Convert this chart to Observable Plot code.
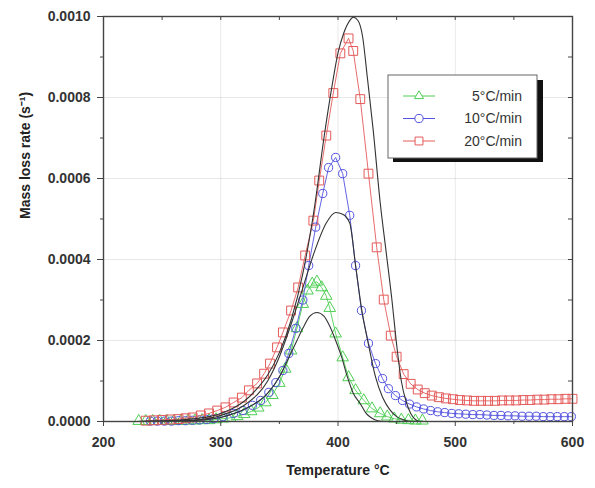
<!DOCTYPE html>
<html><head><meta charset="utf-8">
<script src="https://cdn.jsdelivr.net/npm/d3@7"></script>
<script src="https://cdn.jsdelivr.net/npm/@observablehq/plot@0.6"></script>
<style>body{margin:0;background:#fff}#chart{width:595px;height:488px}</style>
</head><body><div id="chart"></div>
<script>
// ---- data ----
const seriesNames = ["5°C/min", "10°C/min", "20°C/min"];
const seriesColors = ["#4fcf55", "#5252e0", "#e45a5a"];

const temp5 = [230,236,242,248,254,260,266,272,278,284,290,296,302,308,314,320,326,332,338,344,350,355,360,365,370,374,378,382,386,390,393,398,404,409,415,422,429,436,442,448,454,460,466,472];
const rate5 = [0.000001,0.000001,0.000001,0.000001,0.000001,0.000001,0.000001,0.000002,0.000002,0.000003,0.000003,0.000005,0.000007,0.000009,0.000013,0.000018,0.000025,0.000034,0.000047,0.000065,0.000095,0.000130,0.000175,0.000230,0.000290,0.000323,0.000340,0.000345,0.000331,0.000310,0.000280,0.000217,0.000158,0.000109,0.000077,0.000052,0.000032,0.000020,0.000012,0.000007,0.000004,0.000003,0.000002,0.000002];

const temp10 = [240,246,252,258,264,270,276,282,288,294,302,311,319,327,334,341,347,353,358,364,370,375,381,387,392,398,404,410,415,420,426,432,438,443,449,455,461,467,473,479,485,491,497,503,509,515,521,527,533,539,545,551,557,563,569,575,581,587,593,599];
const rate10 = [0.000001,0.000001,0.000001,0.000001,0.000002,0.000002,0.000003,0.000004,0.000005,0.000007,0.000012,0.000020,0.000027,0.000040,0.000052,0.000072,0.000096,0.000126,0.000168,0.000230,0.000300,0.000385,0.000480,0.000563,0.000627,0.000652,0.000612,0.000509,0.000385,0.000274,0.000193,0.000143,0.000106,0.000081,0.000064,0.000052,0.000043,0.000036,0.000031,0.000027,0.000024,0.000022,0.000020,0.000019,0.000018,0.000017,0.000017,0.000016,0.000015,0.000015,0.000014,0.000014,0.000013,0.000013,0.000013,0.000012,0.000012,0.000012,0.000012,0.000012];

const temp20 = [236,243,250,257,264,270,276,283,290,297,304,311,318,324,331,337,342,348,353,360,366,372,379,384,390,396,402,409,413,419,426,433,439,445,450,456,462,468,474,480,486,492,498,504,510,516,522,528,534,540,546,552,558,564,570,576,582,588,594,600];
const rate20 = [0.000002,0.000003,0.000004,0.000005,0.000006,0.000008,0.000010,0.000015,0.000020,0.000027,0.000035,0.000047,0.000059,0.000077,0.000094,0.000118,0.000143,0.000183,0.000220,0.000274,0.000331,0.000410,0.000496,0.000595,0.000706,0.000811,0.000909,0.000946,0.000915,0.000796,0.000612,0.000430,0.000301,0.000212,0.000160,0.000117,0.000093,0.000079,0.000070,0.000064,0.000060,0.000057,0.000055,0.000053,0.000052,0.000051,0.000051,0.000051,0.000051,0.000052,0.000052,0.000052,0.000053,0.000053,0.000054,0.000054,0.000055,0.000055,0.000056,0.000056];

// model curves (dark lines)
const modelTemp5 = [230,260,280,300,320,340,350,360,365,370,376,382,388,393,398,403,408,413,419,424,428,434,440,600];
const modelRate5 = [0,0.000001,0.000003,0.000010,0.000030,0.000070,0.000110,0.000170,0.000200,0.000230,0.000260,0.000269,0.000260,0.000235,0.000200,0.000160,0.000110,0.000070,0.000044,0.000020,0.000010,0.000002,0,0];
const modelTemp10 = [230,260,280,300,320,340,350,360,370,380,390,398,404,410,415,420,426,432,438,444,450,456,462,600];
const modelRate10 = [0,0.000001,0.000004,0.000015,0.000040,0.000100,0.000160,0.000240,0.000330,0.000420,0.000490,0.000516,0.000512,0.000490,0.000385,0.000280,0.000190,0.000110,0.000060,0.000030,0.000012,0.000004,0,0];
const modelTemp20 = [230,250,270,290,300,310,320,330,340,350,360,370,380,388,395,400,405,410,413,417,421,425,430,436,441,446,450,454,458,462,466,470,480,600];
const modelRate20 = [0,0.000002,0.000005,0.000012,0.000020,0.000032,0.000050,0.000078,0.000115,0.000170,0.000250,0.000365,0.000530,0.000700,0.000830,0.000910,0.000960,0.000990,0.000998,0.000990,0.000950,0.000850,0.000720,0.000540,0.000420,0.000300,0.000190,0.000100,0.000050,0.000020,0.000005,0,0,0];

const xTicks = [200, 300, 400, 500, 600];
const xMinor = [250, 350, 450, 550];
const yTicks = [0, 0.0002, 0.0004, 0.0006, 0.0008, 0.0010];
const yMinor = [0.0001, 0.0003, 0.0005, 0.0007, 0.0009];
const xGrid = [300, 400, 500];
const yGrid = [0.0002, 0.0004, 0.0006, 0.0008];
const xLabel = "Temperature °C";
const yLabel = "Mass loss rate (s⁻¹)";

// ---- build ----
const W = 595, H = 488, mL = 103, mR = 23, mT = 16, mB = 67;
const innerW = W - mL - mR, innerH = H - mT - mB;
const symbols = ["triangle", "circle", "square"];
const symbolR = [4.3, 4.1, 5];
const exp = [[temp5, rate5], [temp10, rate10], [temp20, rate20]].map(([t, r]) => t.map((d, i) => ({t: d, r: r[i]})));
const models = [[modelTemp5, modelRate5], [modelTemp10, modelRate10], [modelTemp20, modelRate20]].map(([t, r]) => t.map((d, i) => ({t: d, r: r[i]})));
const axisColor = "#444";

const marks = [
  Plot.gridX(xGrid, {stroke: "#000", strokeOpacity: 0.09}),
  Plot.gridY(yGrid, {stroke: "#000", strokeOpacity: 0.09}),
];
exp.forEach((data, k) => {
  marks.push(Plot.line(data, {x: "t", y: "r", stroke: seriesColors[k], strokeWidth: 0.9}));
  marks.push(Plot.dot(data, {x: "t", y: "r", symbol: () => symbols[k], r: symbolR[k], stroke: seriesColors[k], fill: "none", strokeWidth: 1}));
});
models.forEach((data) => {
  marks.push(Plot.line(data, {x: "t", y: "r", stroke: "#333", strokeWidth: 1.1, curve: "monotone-x"}));
});
marks.push(
  Plot.frame({stroke: axisColor, strokeWidth: 1.4}),
  Plot.axisX(xTicks, {tickSize: 5, tickPadding: 11, fontSize: 14, fontWeight: "bold", label: null, tickFormat: d => d, stroke: axisColor, fill: "#333"}),
  Plot.axisY(yTicks, {tickSize: 6, tickPadding: 7, fontSize: 14, fontWeight: "bold", label: null, tickFormat: d3.format(".4f"), stroke: axisColor, fill: "#333"}),
  Plot.tickX(xMinor, {x: d => d, insetTop: innerH, insetBottom: -3, stroke: axisColor}),
  Plot.tickY(yMinor, {y: d => d, insetRight: innerW, insetLeft: -3, stroke: axisColor}),
  Plot.tickX(xMinor.concat(xTicks.slice(1, -1)), {x: d => d, insetBottom: innerH - 4, stroke: axisColor}),
  Plot.tickY(yMinor.concat(yTicks.slice(1, -1)), {y: d => d, insetLeft: innerW - 4, stroke: axisColor}),
  Plot.text([xLabel], {frameAnchor: "bottom", dy: 53, fontSize: 14, fontWeight: "bold", fill: "#222"}),
  Plot.text([yLabel], {frameAnchor: "left", dx: -78, rotate: -90, fontSize: 14, fontWeight: "bold", fill: "#222"})
);

const plot = Plot.plot({
  width: W, height: H,
  marginLeft: mL, marginRight: mR, marginTop: mT, marginBottom: mB,
  x: {domain: [200, 600], label: null},
  y: {domain: [0, 0.001], label: null},
  style: {fontFamily: "'Liberation Sans', Arial, sans-serif", background: "white", color: "#333"},
  marks
});
document.getElementById("chart").appendChild(plot);

// ---- legend ----
const svg = d3.select(plot);
const lg = svg.append("g");
lg.append("rect").attr("x", 393).attr("y", 80).attr("width", 150).attr("height", 82).attr("fill", "#111");
lg.append("rect").attr("x", 388).attr("y", 75).attr("width", 149).attr("height", 83).attr("fill", "white").attr("stroke", "#666").attr("stroke-width", 1);
const symTypes = [d3.symbolTriangle2, d3.symbolCircle, d3.symbolSquare2];
const rowY = [96, 118.5, 141];
seriesNames.forEach((name, k) => {
  const g = lg.append("g").attr("transform", `translate(0,${rowY[k]})`);
  g.append("line").attr("x1", 403).attr("x2", 435).attr("y1", 0).attr("y2", 0).attr("stroke", seriesColors[k]).attr("stroke-width", 1);
  g.append("path").attr("transform", "translate(419,0)").attr("d", d3.symbol(symTypes[k], Math.PI * symbolR[k] * symbolR[k])()).attr("fill", "white").attr("stroke", seriesColors[k]).attr("stroke-width", 1);
  g.append("text").attr("x", 522).attr("y", 0).attr("dy", "0.35em").attr("text-anchor", "end").attr("font-size", 14).attr("fill", "#333").attr("font-family", "'Liberation Sans', Arial, sans-serif").text(name);
});
</script>
</body></html>
